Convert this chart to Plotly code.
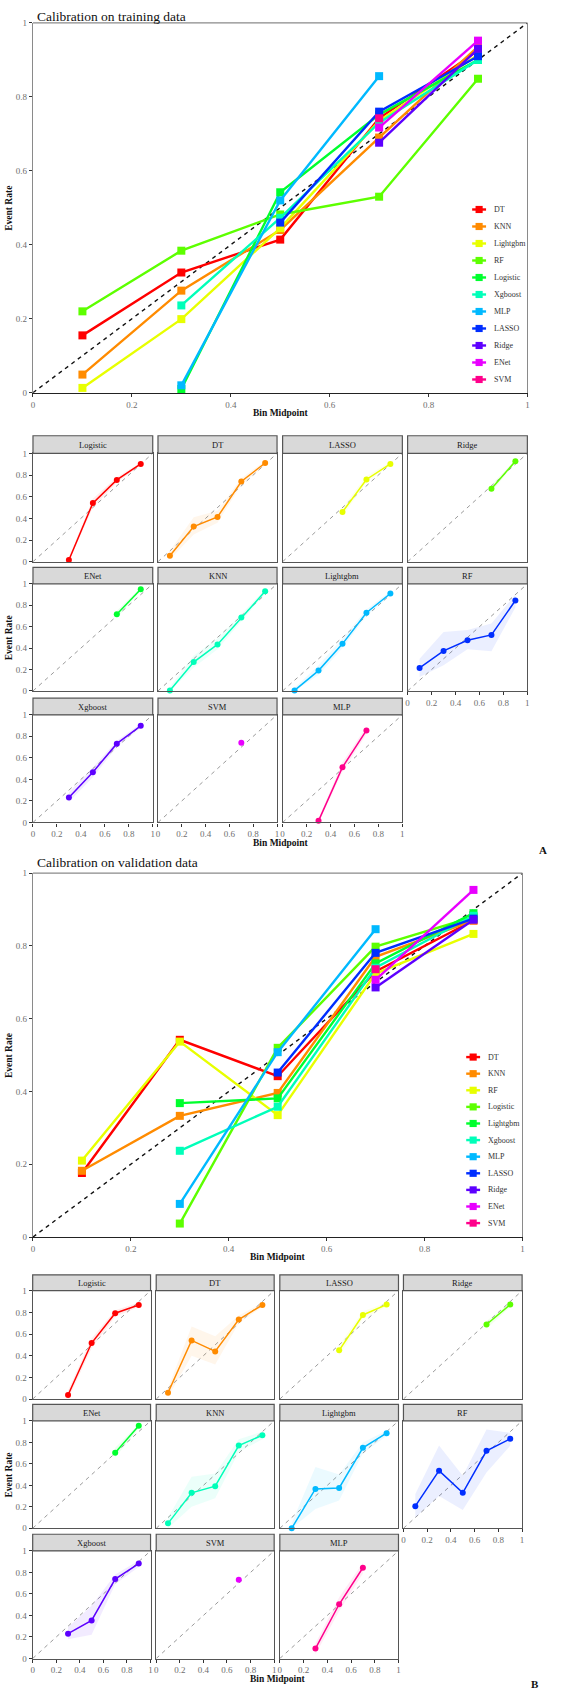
import plotly.graph_objects as go

# ---------------- data ----------------
bins = [0.1, 0.3, 0.5, 0.7, 0.9]
tick_vals = [0, 0.2, 0.4, 0.6, 0.8, 1]
tick_text = ["0", "0.2", "0.4", "0.6", "0.8", "1"]

# main chart A (training) - legend order
train_legend = ["DT", "KNN", "Lightgbm", "RF", "Logistic", "Xgboost", "MLP", "LASSO", "Ridge", "ENet", "SVM"]
tr_DT = [0.155, 0.325, 0.414, 0.742, 0.925]
tr_KNN = [0.049, 0.276, 0.440, 0.690, 0.936]
tr_Lightgbm = [0.013, 0.199, 0.445, 0.735, 0.914]
tr_RF = [0.220, 0.384, 0.482, 0.530, 0.849]
tr_Logistic = [None, 0.010, 0.542, 0.752, 0.900]
tr_Xgboost = [None, 0.236, 0.473, 0.730, 0.900]
tr_MLP = [None, 0.020, 0.520, 0.856, None]
tr_LASSO = [None, None, 0.460, 0.760, 0.910]
tr_Ridge = [None, None, None, 0.676, 0.930]
tr_ENet = [None, None, None, 0.717, 0.952]
tr_SVM = [None, None, None, 0.742, None]

# main chart B (validation) - legend order
valid_legend = ["DT", "KNN", "RF", "Logistic", "Lightgbm", "Xgboost", "MLP", "LASSO", "Ridge", "ENet", "SVM"]
va_DT = [0.176, 0.542, 0.442, 0.730, 0.870]
va_KNN = [0.182, 0.333, 0.396, 0.770, 0.870]
va_RF = [0.210, 0.537, 0.335, 0.724, 0.833]
va_Logistic = [None, 0.037, 0.520, 0.798, 0.880]
va_Lightgbm = [None, 0.368, 0.381, 0.752, 0.890]
va_Xgboost = [None, 0.237, 0.358, 0.740, 0.883]
va_MLP = [None, 0.091, 0.508, 0.846, None]
va_LASSO = [None, None, 0.452, 0.781, 0.875]
va_Ridge = [None, None, None, 0.686, 0.872]
va_ENet = [None, None, None, 0.707, 0.954]
va_SVM = [None, None, None, 0.736, None]

# facet panels order
facet_names = ["Logistic", "DT", "LASSO", "Ridge", "ENet", "KNN", "Lightgbm", "RF", "Xgboost", "SVM", "MLP"]

# facets A (training): rate, lower, upper
fa_Logistic = [None, 0.016, 0.541, 0.755, 0.902]
fa_Logistic_lo = [None, 0.000, 0.500, 0.730, 0.890]
fa_Logistic_hi = [None, 0.040, 0.580, 0.780, 0.915]
fa_DT = [0.055, 0.324, 0.413, 0.740, 0.911]
fa_DT_lo = [0.020, 0.250, 0.360, 0.710, 0.890]
fa_DT_hi = [0.100, 0.410, 0.470, 0.770, 0.930]
fa_LASSO = [None, None, 0.459, 0.759, 0.902]
fa_LASSO_lo = [None, None, 0.420, 0.730, 0.890]
fa_LASSO_hi = [None, None, 0.500, 0.790, 0.920]
fa_Ridge = [None, None, None, 0.673, 0.927]
fa_Ridge_lo = [None, None, None, 0.640, 0.915]
fa_Ridge_hi = [None, None, None, 0.710, 0.940]
fa_ENet = [None, None, None, 0.716, 0.950]
fa_ENet_lo = [None, None, None, 0.680, 0.935]
fa_ENet_hi = [None, None, None, 0.750, 0.965]
fa_KNN = [0.005, 0.270, 0.434, 0.687, 0.930]
fa_KNN_lo = [0.000, 0.220, 0.390, 0.650, 0.910]
fa_KNN_hi = [0.040, 0.330, 0.490, 0.720, 0.950]
fa_Lightgbm = [0.005, 0.190, 0.440, 0.730, 0.910]
fa_Lightgbm_lo = [0.000, 0.150, 0.400, 0.700, 0.890]
fa_Lightgbm_hi = [0.030, 0.240, 0.490, 0.760, 0.930]
fa_RF = [0.215, 0.374, 0.473, 0.523, 0.845]
fa_RF_lo = [0.130, 0.240, 0.390, 0.370, 0.780]
fa_RF_hi = [0.300, 0.550, 0.570, 0.630, 0.900]
fa_Xgboost = [None, 0.231, 0.467, 0.732, 0.898]
fa_Xgboost_lo = [None, 0.190, 0.420, 0.700, 0.880]
fa_Xgboost_hi = [None, 0.280, 0.510, 0.760, 0.920]
fa_SVM = [None, None, None, 0.741, None]
fa_SVM_lo = [None, None, None, 0.741, None]
fa_SVM_hi = [None, None, None, 0.741, None]
fa_MLP = [None, 0.015, 0.513, 0.855, None]
fa_MLP_lo = [None, 0.000, 0.470, 0.820, None]
fa_MLP_hi = [None, 0.040, 0.560, 0.890, None]

# facets B (validation): rate, lower, upper
fb_Logistic = [None, 0.037, 0.517, 0.792, 0.868]
fb_Logistic_lo = [None, 0.000, 0.470, 0.760, 0.850]
fb_Logistic_hi = [None, 0.080, 0.560, 0.820, 0.890]
fb_DT = [0.058, 0.541, 0.440, 0.734, 0.868]
fb_DT_lo = [0.020, 0.400, 0.320, 0.700, 0.850]
fb_DT_hi = [0.100, 0.670, 0.580, 0.770, 0.890]
fb_LASSO = [None, None, 0.450, 0.776, 0.872]
fb_LASSO_lo = [None, None, 0.400, 0.740, 0.850]
fb_LASSO_hi = [None, None, 0.500, 0.810, 0.890]
fb_Ridge = [None, None, None, 0.688, 0.872]
fb_Ridge_lo = [None, None, None, 0.650, 0.850]
fb_Ridge_hi = [None, None, None, 0.720, 0.890]
fb_ENet = [None, None, None, 0.704, 0.954]
fb_ENet_lo = [None, None, None, 0.660, 0.930]
fb_ENet_hi = [None, None, None, 0.750, 0.970]
fb_KNN = [0.046, 0.330, 0.392, 0.771, 0.867]
fb_KNN_lo = [0.000, 0.200, 0.280, 0.710, 0.830]
fb_KNN_hi = [0.100, 0.480, 0.510, 0.830, 0.900]
fb_Lightgbm = [0.000, 0.367, 0.376, 0.750, 0.886]
fb_Lightgbm_lo = [0.000, 0.180, 0.260, 0.700, 0.860]
fb_Lightgbm_hi = [0.050, 0.570, 0.500, 0.800, 0.910]
fb_RF = [0.206, 0.537, 0.330, 0.722, 0.833]
fb_RF_lo = [0.100, 0.300, 0.170, 0.520, 0.770]
fb_RF_hi = [0.320, 0.770, 0.490, 0.920, 0.890]
fb_Xgboost = [None, 0.231, 0.354, 0.738, 0.882]
fb_Xgboost_lo = [None, 0.180, 0.220, 0.690, 0.850]
fb_Xgboost_hi = [None, 0.290, 0.490, 0.780, 0.910]
fb_SVM = [None, None, None, 0.732, None]
fb_SVM_lo = [None, None, None, 0.732, None]
fb_SVM_hi = [None, None, None, 0.732, None]
fb_MLP = [None, 0.092, 0.504, 0.843, None]
fb_MLP_lo = [None, 0.040, 0.440, 0.790, None]
fb_MLP_hi = [None, 0.140, 0.570, 0.890, None]

train_main = [tr_DT, tr_KNN, tr_Lightgbm, tr_RF, tr_Logistic, tr_Xgboost, tr_MLP, tr_LASSO, tr_Ridge, tr_ENet, tr_SVM]
valid_main = [va_DT, va_KNN, va_RF, va_Logistic, va_Lightgbm, va_Xgboost, va_MLP, va_LASSO, va_Ridge, va_ENet, va_SVM]
facets_A = [(fa_Logistic, fa_Logistic_lo, fa_Logistic_hi), (fa_DT, fa_DT_lo, fa_DT_hi),
            (fa_LASSO, fa_LASSO_lo, fa_LASSO_hi), (fa_Ridge, fa_Ridge_lo, fa_Ridge_hi),
            (fa_ENet, fa_ENet_lo, fa_ENet_hi), (fa_KNN, fa_KNN_lo, fa_KNN_hi),
            (fa_Lightgbm, fa_Lightgbm_lo, fa_Lightgbm_hi), (fa_RF, fa_RF_lo, fa_RF_hi),
            (fa_Xgboost, fa_Xgboost_lo, fa_Xgboost_hi), (fa_SVM, fa_SVM_lo, fa_SVM_hi),
            (fa_MLP, fa_MLP_lo, fa_MLP_hi)]
facets_B = [(fb_Logistic, fb_Logistic_lo, fb_Logistic_hi), (fb_DT, fb_DT_lo, fb_DT_hi),
            (fb_LASSO, fb_LASSO_lo, fb_LASSO_hi), (fb_Ridge, fb_Ridge_lo, fb_Ridge_hi),
            (fb_ENet, fb_ENet_lo, fb_ENet_hi), (fb_KNN, fb_KNN_lo, fb_KNN_hi),
            (fb_Lightgbm, fb_Lightgbm_lo, fb_Lightgbm_hi), (fb_RF, fb_RF_lo, fb_RF_hi),
            (fb_Xgboost, fb_Xgboost_lo, fb_Xgboost_hi), (fb_SVM, fb_SVM_lo, fb_SVM_hi),
            (fb_MLP, fb_MLP_lo, fb_MLP_hi)]

palette = ["#FF0000", "#FF8B00", "#E8FF00", "#5DFF00", "#00FF2E", "#00FFB9",
           "#00B9FF", "#002EFF", "#5D00FF", "#E800FF", "#FF008B"]

# ---------------- layout helpers ----------------
W, H = 567, 1701
SERIF = "Liberation Serif"
TICKFONT = dict(family=SERIF, size=9, color="#6e6e6e")

layout = dict(width=W, height=H, margin=dict(l=0, r=0, t=0, b=0),
              paper_bgcolor="white", plot_bgcolor="white", showlegend=False)
traces = []
shapes = []
annos = []
n_ax = [0]


def px_x(p):
    return p / W


def px_y(p):
    return 1 - p / H


def rgba(hexc, a):
    h = hexc.lstrip("#")
    return "rgba(%d,%d,%d,%.3f)" % (int(h[0:2], 16), int(h[2:4], 16), int(h[4:6], 16), a)


def new_panel(x0, x1, y0, y1, show_x, show_y, main):
    n_ax[0] += 1
    n = n_ax[0]
    sfx = "" if n == 1 else str(n)
    common = dict(range=[0, 1], tickvals=tick_vals, ticktext=tick_text, showgrid=False,
                  zeroline=False, tickfont=TICKFONT, fixedrange=True, ticklen=3,
                  tickcolor="#333333", tickwidth=1)
    xa = dict(common, domain=[px_x(x0), px_x(x1)], anchor="y" + sfx,
              showticklabels=show_x, ticks="outside" if show_x else "")
    ya = dict(common, domain=[px_y(y1), px_y(y0)], anchor="x" + sfx,
              showticklabels=show_y, ticks="outside" if show_y else "")
    if main:
        xa.update(showline=True, linecolor="#222222", linewidth=1.3)
        ya.update(showline=True, linecolor="#8a8a8a", linewidth=1.3, mirror=True)
        shapes.append(dict(type="line", xref="paper", yref="paper",
                           x0=px_x(x0), x1=px_x(x1), y0=px_y(y0), y1=px_y(y0),
                           line=dict(color="#8a8a8a", width=1.3)))
    else:
        xa.update(showline=True, mirror=True, linecolor="#555555", linewidth=1.3)
        ya.update(showline=True, mirror=True, linecolor="#555555", linewidth=1.3)
    layout["xaxis" + sfx] = xa
    layout["yaxis" + sfx] = ya
    return "x" + sfx, "y" + sfx


def text(x, y, s, size, bold=False, color="#111111", angle=0, xanchor="center"):
    annos.append(dict(x=px_x(x), y=px_y(y), xref="paper", yref="paper", text=("<b>%s</b>" % s) if bold else s,
                      showarrow=False, font=dict(family=SERIF, size=size, color=color),
                      textangle=angle, xanchor=xanchor, yanchor="middle"))


def valid(ys):
    xs = [b for b, v in zip(bins, ys) if v is not None]
    vs = [v for v in ys if v is not None]
    return xs, vs


def main_chart(x0, x1, y0, y1, series, names, title, title_y, leg_x, leg_y0, leg_dy):
    xr, yr = new_panel(x0, x1, y0, y1, True, True, True)
    traces.append(go.Scatter(x=[0, 1], y=[0, 1], xaxis=xr, yaxis=yr, mode="lines",
                             line=dict(color="#111111", width=1.4, dash="4px,4px"), hoverinfo="skip"))
    for i, ys in enumerate(series):
        xs, vs = valid(ys)
        traces.append(go.Scatter(x=xs, y=vs, xaxis=xr, yaxis=yr, mode="lines+markers",
                                 line=dict(color=palette[i], width=2.4),
                                 marker=dict(symbol="square", size=8, color=palette[i]),
                                 cliponaxis=False, name=names[i]))
    text(x0 + 2, title_y, title, 13.5, xanchor="left")
    text((x0 + x1) / 2, y1 + 20, "Bin Midpoint", 9.5, bold=True)
    text(7, (y0 + y1) / 2, "Event Rate", 9.5, bold=True, angle=-90)
    # legend
    for i, nm in enumerate(names):
        yy = leg_y0 + i * leg_dy
        shapes.append(dict(type="line", xref="paper", yref="paper",
                           x0=px_x(leg_x - 7), x1=px_x(leg_x + 7), y0=px_y(yy), y1=px_y(yy),
                           line=dict(color=palette[i], width=2.4)))
        shapes.append(dict(type="rect", xref="paper", yref="paper",
                           x0=px_x(leg_x - 3.6), x1=px_x(leg_x + 3.6), y0=px_y(yy + 3.6), y1=px_y(yy - 3.6),
                           fillcolor=palette[i], line=dict(width=0)))
        text(leg_x + 13, yy, nm, 8, color="#333333", xanchor="left")


def facet_block(cols, rows, strips, data, label_letter, letter_xy):
    for i, nm in enumerate(facet_names):
        r, c = divmod(i, 4)
        x0, x1 = cols[c]
        y0, y1 = rows[r]
        show_x = (r == 2) or (r == 1 and c == 3)
        xr, yr = new_panel(x0, x1, y0, y1, show_x, c == 0, False)
        ys, lo, hi = data[i]
        col = palette[i]
        traces.append(go.Scatter(x=[0, 1], y=[0, 1], xaxis=xr, yaxis=yr, mode="lines",
                                 line=dict(color="#9a9a9a", width=1, dash="4px,4px"), hoverinfo="skip"))
        xl, vl = valid(lo)
        xh, vh = valid(hi)
        if len(xl) > 1:
            traces.append(go.Scatter(x=xl + xh[::-1], y=vl + vh[::-1], xaxis=xr, yaxis=yr,
                                     mode="lines", fill="toself", fillcolor=rgba(col, 0.08),
                                     line=dict(width=0), hoverinfo="skip"))
        xs, vs = valid(ys)
        traces.append(go.Scatter(x=xs, y=vs, xaxis=xr, yaxis=yr, mode="lines+markers",
                                 line=dict(color=col, width=1.5),
                                 marker=dict(symbol="circle", size=6, color=col),
                                 cliponaxis=False, name=nm))
        sy0, sy1 = strips[r]
        shapes.append(dict(type="rect", xref="paper", yref="paper",
                           x0=px_x(x0), x1=px_x(x1), y0=px_y(sy1), y1=px_y(sy0),
                           fillcolor="#D9D9D9", line=dict(color="#555555", width=1.2)))
        text((x0 + x1) / 2, (sy0 + sy1) / 2, nm, 8.5, color="#1a1a1a")
    text((cols[0][0] + cols[3][1]) / 2, rows[2][1] + 21, "Bin Midpoint", 9.5, bold=True)
    text(7, (rows[1][0] + rows[1][1]) / 2, "Event Rate", 9.5, bold=True, angle=-90)
    text(letter_xy[0], letter_xy[1], label_letter, 11, bold=True)


# ---------------- build ----------------
main_chart(31.2, 529.2, 18, 390, train_main, train_legend, "Calibration on training data", 11.5,
           480.5, 205.7, 17.1)
facet_block([(31.2, 151.8), (157.1, 277.0), (282.6, 403.2), (408.5, 529.1)],
            [(451, 560), (582.3, 690), (714, 822.3)],
            [(433.3, 451), (565.7, 582.3), (697.3, 714)],
            facets_A, "A", (545, 850))
main_chart(31.2, 524.1, 873.3, 1239.3, valid_main, valid_legend, "Calibration on validation data", 862.7,
           474.5, 1058.3, 16.7)
facet_block([(30.9, 149.6), (155.3, 274.1), (279.8, 399.3), (404.3, 523.8)],
            [(1293.3, 1402.3), (1424.3, 1532.3), (1555, 1663.3)],
            [(1277.3, 1293.3), (1407.7, 1424.3), (1538.3, 1555)],
            facets_B, "B", (537, 1689))

layout["shapes"] = shapes
layout["annotations"] = annos
fig = go.Figure(data=traces, layout=layout)
fig.write_html("out.html")
